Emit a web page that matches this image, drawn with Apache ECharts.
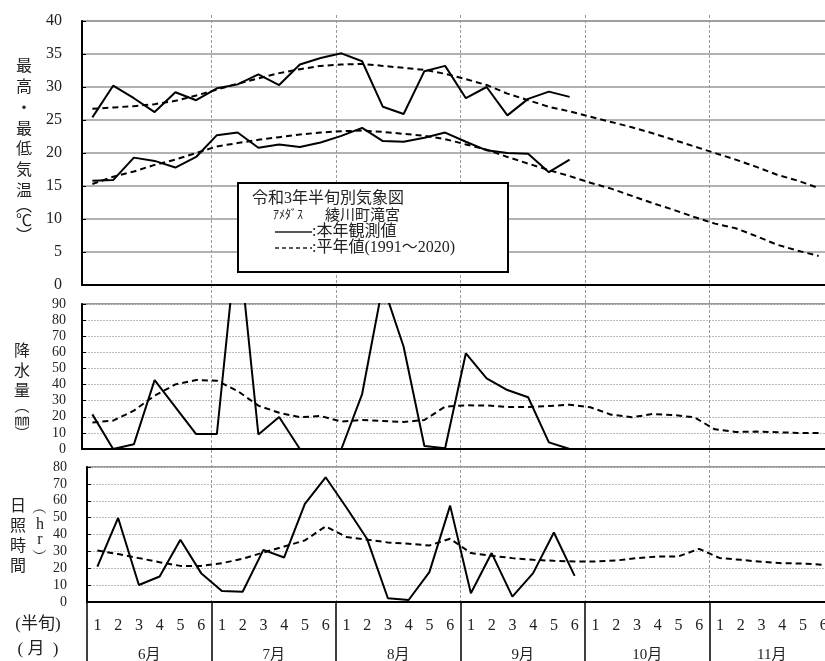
<!DOCTYPE html>
<html><head><meta charset="utf-8">
<script src="https://cdn.jsdelivr.net/npm/echarts@6/dist/echarts.min.js"></script>
<style>html,body{margin:0;padding:0;background:#fff}#c{width:825px;height:661px}</style>
</head><body><div id="c"></div><script>
// ---- data ----
const months = ['6月','7月','8月','9月','10月','11月'];
const halfLabels = ['1','2','3','4','5','6'];

const tmaxObs  = [25.4,30.2,28.3,26.2,29.2,28.0, 29.8,30.4,31.9,30.3,33.4,34.4, 35.1,33.9,27.0,25.9,32.4,33.2, 28.3,30.0,25.7,28.2,29.3,28.5];
const tmaxNorm = [26.7,26.9,27.1,27.4,27.9,28.7, 29.6,30.5,31.3,32.1,32.7,33.2, 33.4,33.5,33.2,32.9,32.6,32.0, 31.2,30.3,29.0,28.0,27.0,26.3, 25.5,24.7,23.9,23.0,22.0,21.0, 20.0,19.0,17.9,16.7,15.8,14.7];
const tminObs  = [15.8,15.9,19.3,18.8,17.8,19.4, 22.7,23.1,20.8,21.3,20.9,21.6, 22.6,23.8,21.8,21.7,22.3,23.1, 21.7,20.4,20.0,19.9,17.1,19.0];
const tminNorm = [15.3,16.4,17.2,18.2,19.0,20.0, 21.0,21.5,22.0,22.4,22.8,23.1, 23.3,23.4,23.2,22.9,22.6,22.1, 21.3,20.5,19.4,18.4,17.4,16.5, 15.5,14.6,13.5,12.4,11.4,10.3, 9.3,8.6,7.4,6.1,5.2,4.4];
const rainObs  = [21.5,0,2.9,42.8,26.0,9.3, 9.3,135,9.0,19.9,0,0, 0,34.1,102,63.5,1.9,0.5, 59.4,43.9,36.6,32.1,4.1,0];
const rainNorm = [16.5,17.6,23.8,33.1,40.1,42.8, 42.4,36.0,26.9,22.5,19.7,20.5, 17.0,18.0,17.4,16.8,18.0,26.3, 27.1,27.0,26.1,26.1,26.7,27.5, 25.9,21.3,19.7,21.7,21.1,19.7, 12.2,10.6,10.8,10.4,10.0,10.0];
const sunObs   = [21.0,49.8,10.1,15.1,36.9,17.1, 6.5,6.1,30.9,26.4,58.1,73.9, 56.0,37.3,2.2,1.2,17.7,57.1, 5.2,29.0,3.2,17.1,41.2,15.5];
const sunNorm  = [30.5,28.4,26.0,23.6,21.4,21.4, 23.0,25.6,29.3,32.9,36.5,44.8, 38.5,36.9,35.3,34.5,33.5,37.5, 29.0,27.4,26.0,25.0,24.4,24.0, 24.0,24.6,26.0,27.0,27.0,31.5, 26.0,25.0,23.8,23.0,22.8,22.0];

const periods = months.flatMap(m => halfLabels.map(h => m + h));

// ---- styles ----
const serif = '"Liberation Serif","DejaVu Serif",serif';
const jp = '"Liberation Serif","Noto Sans CJK JP",sans-serif';
const jpOnly = '"Noto Sans CJK JP",sans-serif';
const solid = {color:'#000', width:2};
const dashed = {color:'#000', width:2, type:[6,4]};

function catAxis(grid, extra) {
  return Object.assign({
    gridIndex: grid, type:'category', data: periods, boundaryGap:true,
    axisLine:{lineStyle:{color:'#000', width:2}},
    axisTick:{inside:true, length:5, interval:0, lineStyle:{color:'#000', width:1}},
    axisLabel:{show:false}, splitLine:{show:false}
  }, extra || {});
}
function valAxis(grid, max, interval, fs, margin, split) {
  return {
    gridIndex: grid, type:'value', min:0, max:max, interval:interval,
    axisLine:{show:true, lineStyle:{color:'#000', width:2}},
    axisTick:{show:true, inside:true, length:4, lineStyle:{color:'#000', width:1}},
    axisLabel:{fontSize:fs, margin:margin, fontFamily:serif, color:'#222'},
    splitLine:{show:true, lineStyle:split}
  };
}
function line(x, y, data, style) {
  return {type:'line', xAxisIndex:x, yAxisIndex:y, data:data, symbol:'none',
    lineStyle:style, clip:true, z:3, silent:true};
}
const gb = {outerBoundsMode:'none', containLabel:false};

const option = {
  animation:false,
  backgroundColor:'#fff',
  grid:[
    Object.assign({left:82, top:21, width:747, height:264, show:true, borderColor:'#999', borderWidth:1.5}, gb),
    Object.assign({left:82, top:304, width:747, height:145, show:true, borderColor:'#999', borderWidth:2}, gb),
    Object.assign({left:87, top:467, width:747, height:135, show:true, borderColor:'#999', borderWidth:2}, gb),
    Object.assign({left:87, top:15, width:747, height:587}, gb)
  ],
  xAxis:[
    catAxis(0),
    catAxis(1),
    catAxis(2, {
      axisTick:{inside:true, length:5, interval:0, alignWithLabel:true, lineStyle:{color:'#000', width:1}},
      axisLabel:{show:true, interval:0, margin:16, fontSize:16, fontFamily:serif, color:'#222',
        formatter:(v, i) => halfLabels[i % 6]}
    }),
    {gridIndex:2, type:'category', data:months, boundaryGap:true, position:'bottom',
      axisLine:{show:false},
      axisTick:{show:true, length:60, interval:0, lineStyle:{color:'#000', width:1.5}},
      axisLabel:{interval:0, margin:46, fontSize:15, fontFamily:jp, color:'#222'}},
    {gridIndex:3, type:'category', data:periods, boundaryGap:true,
      axisLine:{show:false}, axisTick:{show:false}, axisLabel:{show:false},
      splitLine:{show:true, interval:(i) => i > 0 && i % 6 === 0,
        lineStyle:{color:'#999', width:1, type:[3,2]}}}
  ],
  yAxis:[
    valAxis(0, 40, 5, 16, 20, {color:'#999', width:1.5}),
    valAxis(1, 90, 10, 14, 16, {color:'#bbb', width:1, type:[2,1]}),
    valAxis(2, 80, 10, 14, 20, {color:'#bbb', width:1, type:[2,1]}),
    {gridIndex:3, type:'value', show:false, splitLine:{show:false}}
  ],
  series:[
    line(0,0,tmaxObs,solid), line(0,0,tmaxNorm,dashed),
    line(0,0,tminObs,solid), line(0,0,tminNorm,dashed),
    line(1,1,rainObs,solid), line(1,1,rainNorm,dashed),
    line(2,2,sunObs,solid), line(2,2,sunNorm,dashed)
  ],
  graphic:[
    // legend box
    {type:'rect', z:100, shape:{x:238, y:183, width:270, height:89},
      style:{fill:'#fff', stroke:'#000', lineWidth:2}},
    {type:'text', z:101, x:252, y:199, style:{text:'令和3年半旬別気象図', font:'16px '+jp, fill:'#222', verticalAlign:'middle'}},
    {type:'text', z:101, x:273, y:214, style:{text:'ｱﾒﾀﾞｽ', font:'12px '+jpOnly, fill:'#222', verticalAlign:'middle'}},
    {type:'text', z:101, x:325, y:214, style:{text:'綾川町滝宮', font:'15px '+jpOnly, fill:'#222', verticalAlign:'middle'}},
    {type:'line', z:101, shape:{x1:275, y1:232, x2:312, y2:232}, style:{stroke:'#222', lineWidth:1.5}},
    {type:'text', z:101, x:312, y:232, style:{text:':本年観測値', font:'16px '+jp, fill:'#222', verticalAlign:'middle'}},
    {type:'line', z:101, shape:{x1:275, y1:248, x2:312, y2:248}, style:{stroke:'#222', lineWidth:1.5, lineDash:[4,3]}},
    {type:'text', z:101, x:312, y:248, style:{text:':平年値(1991～2020)', font:'16px '+jp, fill:'#222', verticalAlign:'middle'}},
    // y-axis titles
    {type:'text', x:24, y:55, style:{text:'最\n高\n・\n最\n低\n気\n温', font:'16px '+jpOnly, lineHeight:20.7, fill:'#222', align:'center'}},
    {type:'text', x:24, y:197, style:{text:'︵\n℃\n︶', font:'16px '+jpOnly, lineHeight:15, fill:'#222', align:'center'}},
    {type:'text', x:22, y:340, style:{text:'降\n水\n量', font:'16px '+jpOnly, lineHeight:20, fill:'#222', align:'center'}},
    {type:'text', x:22, y:398, style:{text:'︵\n㎜\n︶', font:'15px '+jpOnly, lineHeight:14, fill:'#222', align:'center'}},
    {type:'text', x:18, y:495, style:{text:'日\n照\n時\n間', font:'16px '+jpOnly, lineHeight:20, fill:'#222', align:'center'}},
    {type:'text', x:40, y:502, style:{text:'︵\nh\nr\n︶', font:'16px '+serif, lineHeight:15, fill:'#222', align:'center'}},
    {type:'text', x:38, y:625, style:{text:'(半旬)', font:'17px '+jp, fill:'#222', align:'center', verticalAlign:'middle'}},
    {type:'text', x:38, y:650, style:{text:'( 月  )', font:'17px '+jp, fill:'#222', align:'center', verticalAlign:'middle'}}
  ]
};
const chart = echarts.init(document.getElementById('c'), null, {renderer:'canvas'});
chart.setOption(option);
</script></body></html>
